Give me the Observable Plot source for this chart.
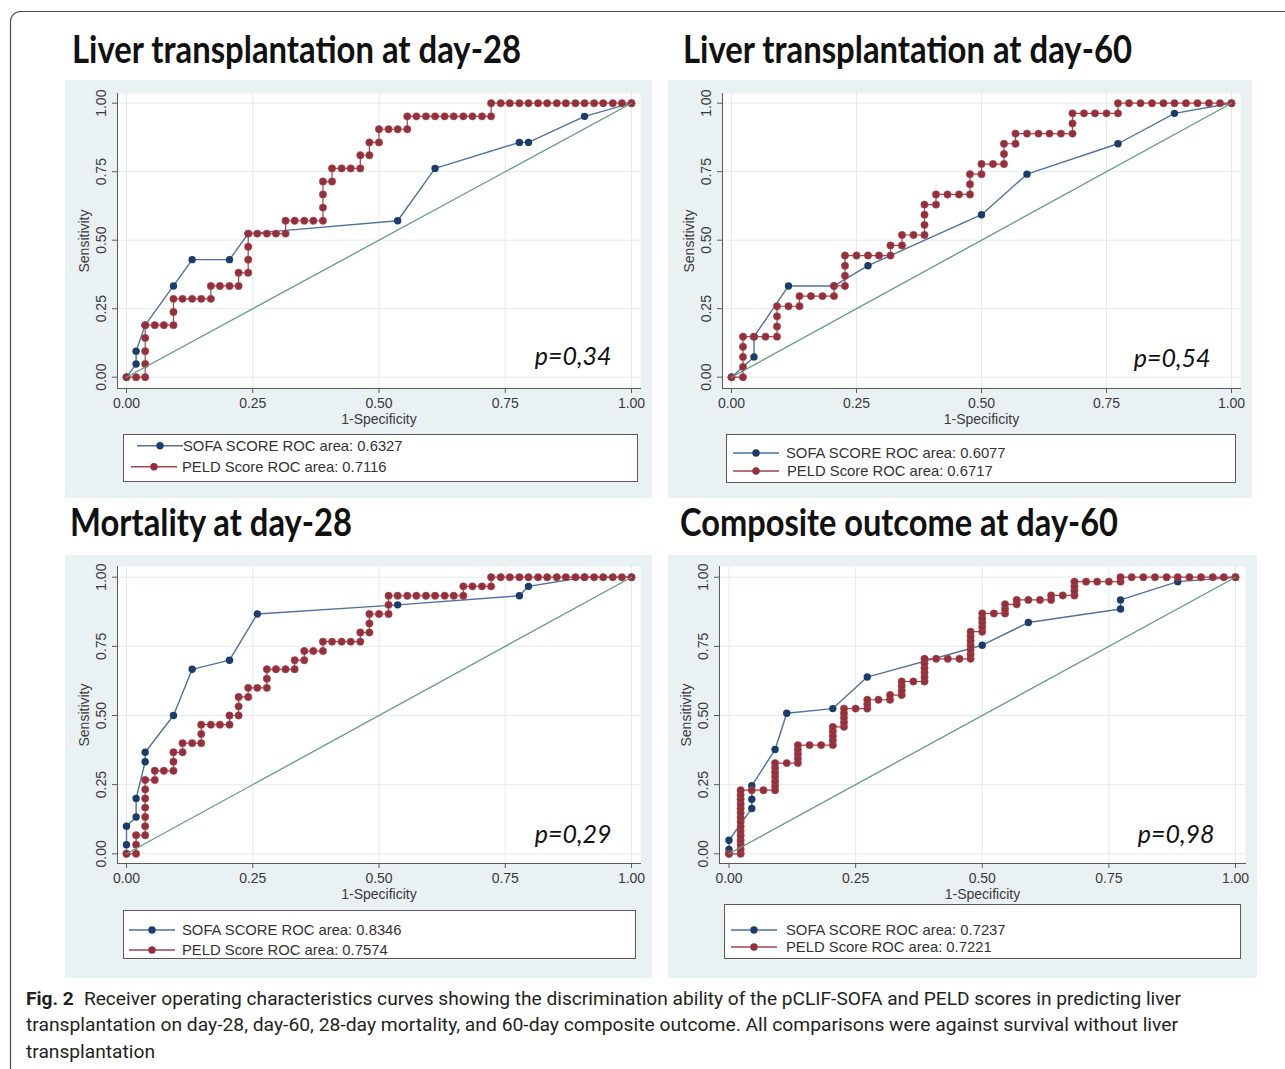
<!DOCTYPE html>
<html><head><meta charset="utf-8">
<script src="https://cdn.jsdelivr.net/npm/d3@7"></script>
<script src="https://cdn.jsdelivr.net/npm/@observablehq/plot@0.6"></script>
<style>
html,body{margin:0;padding:0;background:#fff;}
#page{position:relative;width:1285px;height:1069px;overflow:hidden;background:#fff;}
.panel{position:absolute;}
.panel svg{display:block;}
#overlay{position:absolute;left:0;top:0;pointer-events:none;}
</style></head><body><div id="page"></div>
<script>
// ---------------- DATA ----------------
const titles = ["Liver transplantation at day-28", "Liver transplantation at day-60", "Mortality at day-28", "Composite outcome at day-60"];
const pValues = ["p=0,34", "p=0,54", "p=0,29", "p=0,98"];
const sofaLabel = "SOFA SCORE ROC area: ";
const peldLabel = "PELD Score ROC area: ";
const sofaAreas = ["0.6327", "0.6077", "0.8346", "0.7237"];
const peldAreas = ["0.7116", "0.6717", "0.7574", "0.7221"];
const xLabel = "1-Specificity";
const yLabel = "Sensitivity";
const tickValues = [0, 0.25, 0.5, 0.75, 1];
const refLine = [[0, 0], [1, 1]];

// [1-specificity, sensitivity]
const sofa1 = [[0,0],[0.019,0.048],[0.019,0.095],[0.037,0.190],[0.093,0.333],[0.130,0.429],[0.204,0.429],[0.241,0.524],[0.537,0.571],[0.611,0.762],[0.778,0.857],[0.796,0.857],[0.907,0.952],[1,1]];
const peld1 = [[0,0],[0.019,0],[0.037,0],[0.037,0.048],[0.037,0.095],[0.037,0.143],[0.037,0.190],
 [0.056,0.190],[0.074,0.190],[0.093,0.190],[0.093,0.238],[0.093,0.286],
 [0.111,0.286],[0.130,0.286],[0.148,0.286],[0.167,0.286],[0.167,0.333],
 [0.185,0.333],[0.204,0.333],[0.222,0.333],[0.222,0.381],[0.241,0.381],
 [0.241,0.429],[0.241,0.476],[0.241,0.524],[0.259,0.524],[0.278,0.524],[0.296,0.524],[0.315,0.524],
 [0.315,0.571],[0.333,0.571],[0.352,0.571],[0.370,0.571],[0.389,0.571],
 [0.389,0.619],[0.389,0.667],[0.389,0.714],[0.407,0.714],[0.407,0.762],
 [0.426,0.762],[0.444,0.762],[0.463,0.762],[0.463,0.810],[0.481,0.810],[0.481,0.857],
 [0.500,0.857],[0.500,0.905],[0.519,0.905],[0.537,0.905],[0.556,0.905],[0.556,0.952],
 [0.574,0.952],[0.593,0.952],[0.611,0.952],[0.630,0.952],[0.648,0.952],[0.667,0.952],[0.685,0.952],[0.704,0.952],[0.722,0.952],
 [0.722,1],[0.741,1],[0.759,1],[0.778,1],[0.796,1],[0.815,1],[0.833,1],[0.852,1],[0.870,1],[0.889,1],[0.907,1],[0.926,1],[0.944,1],[0.963,1],[0.981,1],[1,1]];

const sofa2 = [[0,0],[0.045,0.074],[0.045,0.148],[0.114,0.333],[0.205,0.333],[0.273,0.407],[0.5,0.593],[0.591,0.741],[0.773,0.852],[0.886,0.963],[1,1]];
const peld2 = [[0,0],[0.023,0],[0.023,0.037],[0.023,0.074],[0.023,0.111],[0.023,0.148],
 [0.045,0.148],[0.068,0.148],[0.091,0.148],[0.091,0.185],[0.091,0.222],[0.091,0.259],
 [0.114,0.259],[0.136,0.259],[0.136,0.296],[0.159,0.296],[0.182,0.296],[0.205,0.296],[0.205,0.333],
 [0.227,0.333],[0.227,0.370],[0.227,0.407],[0.227,0.444],[0.25,0.444],[0.273,0.444],[0.295,0.444],[0.318,0.444],
 [0.318,0.481],[0.341,0.481],[0.341,0.519],[0.364,0.519],[0.386,0.519],[0.386,0.556],[0.386,0.593],[0.386,0.630],
 [0.409,0.630],[0.409,0.667],[0.432,0.667],[0.455,0.667],[0.477,0.667],[0.477,0.704],[0.477,0.741],
 [0.5,0.741],[0.5,0.778],[0.523,0.778],[0.545,0.778],[0.545,0.815],[0.545,0.852],[0.568,0.852],[0.568,0.889],
 [0.591,0.889],[0.614,0.889],[0.636,0.889],[0.659,0.889],[0.682,0.889],[0.682,0.926],[0.682,0.963],
 [0.705,0.963],[0.727,0.963],[0.75,0.963],[0.773,0.963],[0.773,1],
 [0.795,1],[0.818,1],[0.841,1],[0.864,1],[0.886,1],[0.909,1],[0.932,1],[0.955,1],[0.977,1],[1,1]];

const sofa3 = [[0,0],[0,0.033],[0,0.1],[0.019,0.133],[0.019,0.2],[0.037,0.333],[0.037,0.367],[0.093,0.5],[0.130,0.667],[0.204,0.7],[0.259,0.867],[0.537,0.9],[0.778,0.933],[0.796,0.967],[0.907,1],[1,1]];
const peld3 = [[0,0],[0.019,0],[0.019,0.033],[0.019,0.067],[0.037,0.067],[0.037,0.1],[0.037,0.133],[0.037,0.167],[0.037,0.2],[0.037,0.233],[0.037,0.267],
 [0.056,0.267],[0.056,0.3],[0.074,0.3],[0.093,0.3],[0.093,0.333],[0.093,0.367],[0.111,0.367],[0.111,0.4],
 [0.130,0.4],[0.148,0.4],[0.148,0.433],[0.148,0.467],[0.167,0.467],[0.185,0.467],[0.204,0.467],[0.204,0.5],
 [0.222,0.5],[0.222,0.533],[0.222,0.567],[0.241,0.567],[0.241,0.6],[0.259,0.6],[0.278,0.6],[0.278,0.633],[0.278,0.667],
 [0.296,0.667],[0.315,0.667],[0.333,0.667],[0.333,0.7],[0.352,0.7],[0.352,0.733],[0.370,0.733],[0.389,0.733],[0.389,0.767],
 [0.407,0.767],[0.426,0.767],[0.444,0.767],[0.463,0.767],[0.463,0.8],[0.481,0.8],[0.481,0.833],[0.481,0.867],
 [0.5,0.867],[0.519,0.867],[0.519,0.9],[0.519,0.933],
 [0.537,0.933],[0.556,0.933],[0.574,0.933],[0.593,0.933],[0.611,0.933],[0.630,0.933],[0.648,0.933],[0.667,0.933],
 [0.667,0.967],[0.685,0.967],[0.704,0.967],[0.722,0.967],[0.722,1],
 [0.741,1],[0.759,1],[0.778,1],[0.796,1],[0.815,1],[0.833,1],[0.852,1],[0.870,1],[0.889,1],[0.907,1],[0.926,1],[0.944,1],[0.963,1],[0.981,1],[1,1]];

const sofa4 = [[0,0],[0,0.016],[0,0.049],[0.045,0.164],[0.045,0.197],[0.045,0.246],[0.091,0.377],[0.114,0.508],[0.205,0.525],[0.273,0.639],[0.5,0.754],[0.591,0.836],[0.773,0.885],[0.773,0.918],[0.886,0.984],[1,1]];
const peld4 = [[0,0],
 [0.023,0],[0.023,0.016],[0.023,0.033],[0.023,0.049],[0.023,0.066],[0.023,0.082],[0.023,0.098],[0.023,0.115],[0.023,0.131],[0.023,0.148],[0.023,0.164],[0.023,0.180],[0.023,0.197],[0.023,0.213],[0.023,0.230],
 [0.045,0.230],[0.068,0.230],
 [0.091,0.230],[0.091,0.246],[0.091,0.262],[0.091,0.279],[0.091,0.295],[0.091,0.311],[0.091,0.328],
 [0.114,0.328],
 [0.136,0.328],[0.136,0.344],[0.136,0.361],[0.136,0.377],[0.136,0.393],
 [0.159,0.393],[0.182,0.393],
 [0.205,0.393],[0.205,0.410],[0.205,0.426],[0.205,0.443],[0.205,0.459],
 [0.227,0.459],[0.227,0.475],[0.227,0.492],[0.227,0.508],[0.227,0.525],
 [0.25,0.525],
 [0.273,0.525],[0.273,0.541],[0.273,0.557],
 [0.295,0.557],
 [0.318,0.557],[0.318,0.574],
 [0.341,0.574],[0.341,0.590],[0.341,0.607],[0.341,0.623],
 [0.364,0.623],
 [0.386,0.623],[0.386,0.639],[0.386,0.656],[0.386,0.672],[0.386,0.689],[0.386,0.705],
 [0.409,0.705],[0.432,0.705],[0.455,0.705],
 [0.477,0.705],[0.477,0.721],[0.477,0.738],[0.477,0.754],[0.477,0.770],[0.477,0.787],[0.477,0.803],
 [0.5,0.803],[0.5,0.820],[0.5,0.836],[0.5,0.852],[0.5,0.869],
 [0.523,0.869],
 [0.545,0.869],[0.545,0.885],[0.545,0.902],
 [0.568,0.902],[0.568,0.918],
 [0.591,0.918],[0.614,0.918],
 [0.636,0.918],[0.636,0.934],
 [0.659,0.934],
 [0.682,0.934],[0.682,0.951],[0.682,0.967],[0.682,0.984],
 [0.705,0.984],[0.727,0.984],[0.75,0.984],
 [0.773,0.984],[0.773,1],
 [0.795,1],[0.818,1],[0.841,1],[0.864,1],[0.886,1],[0.909,1],[0.932,1],[0.955,1],[0.977,1],[1,1]];

const sofaSeries = [sofa1, sofa2, sofa3, sofa4];
const peldSeries = [peld1, peld2, peld3, peld4];

const captionLead = "Fig. 2";
const captionLines = [
  "Receiver operating characteristics curves showing the discrimination ability of the pCLIF-SOFA and PELD scores in predicting liver",
  "transplantation on day-28, day-60, 28-day mortality, and 60-day composite outcome. All comparisons were against survival without liver",
  "transplantation"
];

// ---------------- LAYOUT / STYLE ----------------
const C = {
  bg: "#eaf1f3", grid: "#e3eaee", axis: "#5a5a5a", text: "#3a3a3a",
  sofaLine: "#4f72a0", sofaDot: "#1b3d6c", peldLine: "#a5434d", peldDot: "#952f3a", ref: "#5f9b80"
};
const layout = [
  {left:65, top:80, w:587, h:418, fl:117, fr:640, ft:93, fb:388, x0:126, x1:631, y1:102.7, y0:376.7, pdx:-29, pdy:-24,
   legend:{x:123, y:434, w:514, h:47, rows:[{y:445.7, sym:137, text:183}, {y:466.7, sym:131, text:182}]},
   title:{x:72, y:63, len:449}},
  {left:668, top:80, w:584, h:418, fl:722, fr:1240, ft:93, fb:388, x0:731, x1:1231, y1:102.7, y0:376.7, pdx:-30, pdy:-22,
   legend:{x:726, y:434, w:509, h:48, rows:[{y:453, sym:733, text:786}, {y:471, sym:733, text:787}]},
   title:{x:683, y:63, len:449}},
  {left:65, top:555, w:587, h:423, fl:117, fr:640, ft:566, fb:863, x0:126, x1:631, y1:576.7, y0:853.3, pdx:-29, pdy:-21,
   legend:{x:123, y:910, w:512, h:48, rows:[{y:930, sym:129, text:182}, {y:950, sym:129, text:182}]},
   title:{x:70, y:536, len:282}},
  {left:668, top:555, w:589, h:423, fl:719, fr:1245, ft:566, fb:863, x0:728.5, x1:1235, y1:576.7, y0:853.3, pdx:-31, pdy:-21,
   legend:{x:724, y:904, w:516, h:54, rows:[{y:930, sym:731, text:786}, {y:947, sym:731, text:786}]},
   title:{x:680, y:536, len:438}}
];

const page = document.getElementById("page");
const rows = pairs => pairs.map(([x, y]) => ({x, y}));
const fmt = d => d.toFixed(2);

layout.forEach((L, i) => {
  const sofa = rows(sofaSeries[i]), peld = rows(peldSeries[i]), ref = rows(refLine);
  const chart = Plot.plot({
    width: L.w, height: L.h,
    marginLeft: L.fl - L.left, marginRight: L.left + L.w - L.fr,
    marginTop: L.ft - L.top, marginBottom: L.top + L.h - L.fb,
    style: {background: C.bg, color: C.text, fontFamily: "'Liberation Sans', Arial, sans-serif", fontSize: "14px", overflow: "visible"},
    x: {domain: [0, 1], insetLeft: L.x0 - L.fl, insetRight: L.fr - L.x1},
    y: {domain: [0, 1], insetTop: L.y1 - L.ft, insetBottom: L.fb - L.y0},
    marks: [
      Plot.frame({fill: "#fff", stroke: "none"}),
      Plot.gridX({ticks: tickValues, stroke: C.grid, strokeOpacity: 1}),
      Plot.gridY({ticks: tickValues, stroke: C.grid, strokeOpacity: 1}),
      Plot.frame({anchor: "left", stroke: C.axis}),
      Plot.frame({anchor: "bottom", stroke: C.axis}),
      Plot.axisX({ticks: tickValues, tickFormat: fmt, tickSize: 5, tickPadding: 5, stroke: C.axis,
        label: xLabel, labelAnchor: "center", labelOffset: 35, labelArrow: "none", fontSize: 14}),
      Plot.axisY({ticks: tickValues, tickFormat: fmt, tickRotate: -90, tickSize: 5, tickPadding: 7, stroke: C.axis,
        label: yLabel, labelAnchor: "center", labelOffset: 38, labelArrow: "none", fontSize: 14}),
      Plot.line(sofa, {x: "x", y: "y", stroke: C.sofaLine, strokeWidth: 1.4}),
      Plot.dot(sofa, {x: "x", y: "y", r: 3.7, fill: C.sofaDot, stroke: "none"}),
      Plot.line(peld, {x: "x", y: "y", stroke: C.peldLine, strokeWidth: 1.2}),
      Plot.dot(peld, {x: "x", y: "y", r: 3.7, fill: C.peldDot, stroke: "#ab4c56", strokeWidth: 0.5}),
      Plot.line(ref, {x: "x", y: "y", stroke: C.ref, strokeWidth: 1.3}),
      Plot.text([pValues[i]], {text: d => d, frameAnchor: "bottom-right", textAnchor: "end", lineAnchor: "bottom",
        dx: L.pdx, dy: L.pdy, fontSize: 25, fontStyle: "italic", fontFamily: "Lato, 'Open Sans', sans-serif", fill: "#111"})
    ]
  });
  const div = document.createElement("div");
  div.className = "panel";
  div.style.left = L.left + "px"; div.style.top = L.top + "px";
  div.appendChild(chart);
  page.appendChild(div);
});

// ---------------- OVERLAY: border, titles, legends, caption ----------------
const svg = d3.select(page).append("svg").attr("id", "overlay").attr("width", 1285).attr("height", 1069);
svg.append("rect").attr("x", 10.5).attr("y", 11.5).attr("width", 1400).attr("height", 1200).attr("rx", 10)
  .attr("fill", "none").attr("stroke", "#4d4d4d").attr("stroke-width", 1.2);

layout.forEach((L, i) => {
  svg.append("text").attr("x", L.title.x).attr("y", L.title.y)
    .attr("textLength", L.title.len).attr("lengthAdjust", "spacingAndGlyphs")
    .attr("font-family", "Lato, 'Open Sans', sans-serif").attr("font-weight", 700).attr("font-size", 38)
    .attr("fill", "#111").text(titles[i]);
  const lg = L.legend;
  const g = svg.append("g");
  g.append("rect").attr("x", lg.x + 0.5).attr("y", lg.y + 0.5).attr("width", lg.w).attr("height", lg.h)
    .attr("fill", "#fff").attr("stroke", "#5a5a5a").attr("stroke-width", 1);
  const entries = [
    {label: sofaLabel + sofaAreas[i], line: C.sofaLine, dot: C.sofaDot},
    {label: peldLabel + peldAreas[i], line: C.peldLine, dot: C.peldDot}
  ];
  entries.forEach((e, j) => {
    const r = lg.rows[j];
    g.append("line").attr("x1", r.sym).attr("x2", r.sym + 46).attr("y1", r.y).attr("y2", r.y)
      .attr("stroke", e.line).attr("stroke-width", 1.4);
    g.append("circle").attr("cx", r.sym + 23).attr("cy", r.y).attr("r", 3.7).attr("fill", e.dot);
    g.append("text").attr("x", r.text).attr("y", r.y + 5.2)
      .attr("font-family", "'Liberation Sans', Arial, sans-serif").attr("font-size", 14.8)
      .attr("fill", "#333").text(e.label);
  });
});

const capFont = "Roboto, 'Noto Sans', sans-serif";
const capY = [1005, 1031, 1058];
const capLen = [1155, 1152, 129];
captionLines.forEach((line, j) => {
  const t = svg.append("text").attr("x", 26).attr("y", capY[j])
    .attr("textLength", capLen[j]).attr("lengthAdjust", "spacingAndGlyphs")
    .attr("font-family", capFont).attr("font-size", 19).attr("fill", "#231f20");
  if (j === 0) {
    t.append("tspan").attr("font-weight", 700).text(captionLead);
    t.append("tspan").attr("dx", 10).text(line);
  } else {
    t.text(line);
  }
});
</script></body></html>
